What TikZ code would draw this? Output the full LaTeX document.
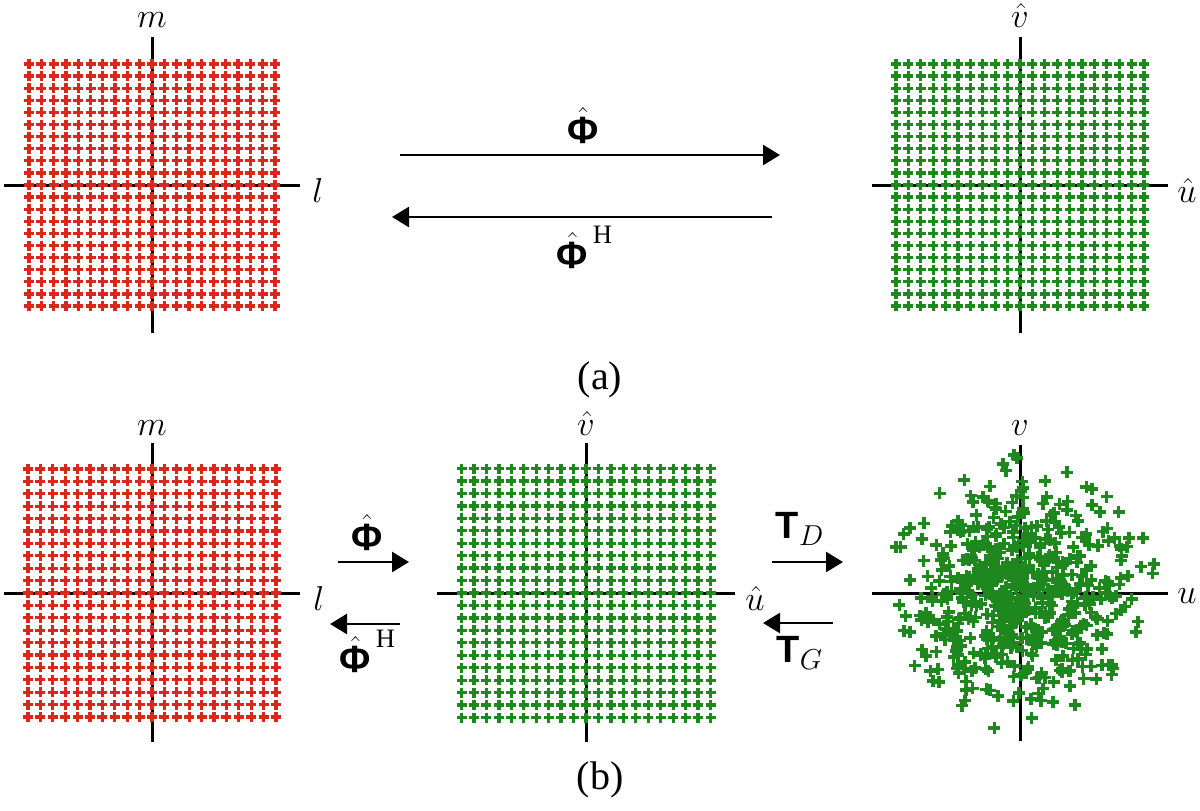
\documentclass[tikz,border=0pt]{standalone}
\usepackage{amsmath}
\usepackage{fontspec}
\setmainfont{Liberation Serif}
\setsansfont{Liberation Sans}
\usepackage{graphicx}
\usetikzlibrary{arrows.meta}

\definecolor{gridred}{RGB}{218,38,28}
\definecolor{gridgreen}{RGB}{30,136,30}

\newcommand{\Phat}{\hat{\text{\sffamily\bfseries Φ}}}
\newcommand{\Tbf}{\text{\sffamily\bfseries T}}

\begin{document}
\begin{tikzpicture}[
    x=0.5pt, y=-0.5pt,
    axis/.style={line width=1.5pt},
    redcross/.style={draw=gridred, line width=1.65pt},
    greencross/.style={draw=gridgreen, line width=1.65pt},
    scatcross/.style={draw=gridgreen, line width=1.8pt},
    arrow/.style={-{Triangle[length=8.5pt,width=10pt]}, line width=1.3pt},
    lbl/.style={font=\fontsize{19}{23}\selectfont, inner sep=0pt, anchor=base},
    oplbl/.style={font=\fontsize{19}{23}\selectfont, inner sep=0pt, anchor=base},
    captxt/.style={font=\rmfamily\fontsize{20}{24}\selectfont, inner sep=0pt, anchor=base}
]
\useasboundingbox (0,0) rectangle (1200,810);

% --- Hình (a): mặt phẳng (l,m) bên trái ---
\begin{scope}[shift={(152,185)}]
  \draw[axis] (-148,0) -- (148,0);
  \draw[axis] (0,-148) -- (0,148);
  \foreach \i in {-10,...,10}
    \foreach \j in {-10,...,10}
      \draw[redcross] (\i*12.3-5,\j*12.1) -- ++(10,0) ++(-5,-5) -- ++(0,10);
  \node[lbl] (mA) at (0,-158) {$m$};
  \node[lbl, anchor=base west] (lA) at (160,17) {$l$};
\end{scope}

% --- Hình (a): mặt phẳng (u,v) bên phải ---
\begin{scope}[shift={(1020,185)}]
  \draw[axis] (-148,0) -- (148,0);
  \draw[axis] (0,-148) -- (0,148);
  \foreach \i in {-10,...,10}
    \foreach \j in {-10,...,10}
      \draw[greencross] (\i*12.4-5,\j*12.1) -- ++(10,0) ++(-5,-5) -- ++(0,10);
  \node[lbl] (vA) at (0,-158) {$\hat{v}$};
  \node[lbl, anchor=base west] (uA) at (157,17) {$\hat{u}$};
\end{scope}

% --- Mũi tên (a) ---
\coordinate (phiA1) at (400,155);
\coordinate (phiA2) at (780,155);
\coordinate (phiHA1) at (772,217);
\coordinate (phiHA2) at (392,217);
\draw[arrow] (phiA1) -- (phiA2);
\draw[arrow] (phiHA1) -- (phiHA2);
\node[oplbl] (phiA) at (583,143) {$\Phat$};
\node[oplbl] (phiHA) at (585,268) {$\Phat^{\,\mathrm{H}}$};

\node[captxt] (capA) at (600,389) {(a)};

% --- Hình (b): lưới (l,m) ---
\begin{scope}[shift={(152,593)}]
  \draw[axis] (-148,0) -- (148,0);
  \draw[axis] (0,-150) -- (0,149);
  \foreach \i in {-10,...,10}
    \foreach \j in {-10,...,10}
      \draw[redcross] (\i*12.4-5,\j*12.4) -- ++(10,0) ++(-5,-5) -- ++(0,10);
  \node[lbl] (mB) at (0,-158) {$m$};
  \node[lbl, anchor=base west] (lB) at (161,17) {$l$};
\end{scope}

% --- Hình (b): lưới (u,v) ở giữa ---
\begin{scope}[shift={(586,593)}]
  \draw[axis] (-149,0) -- (149,0);
  \draw[axis] (0,-150) -- (0,149);
  \foreach \i in {-10,...,10}
    \foreach \j in {-10,...,10}
      \draw[greencross] (\i*12.45-5,\j*12.45) -- ++(10,0) ++(-5,-5) -- ++(0,10);
  \node[lbl] (vB) at (0,-158) {$\hat{v}$};
  \node[lbl, anchor=base west] (uB) at (159,17) {$\hat{u}$};
\end{scope}

% --- Hình (b): điểm ngẫu nhiên bên phải ---
\begin{scope}[shift={(1020,593)}]
  \draw[axis] (-148,0) -- (148,0);
  \draw[axis] (0,-148) -- (0,148);
  \pgfmathsetseed{4127}
  \foreach \k in {1,...,600}{
    \pgfmathsetmacro\rr{53*sqrt(-2*ln(0.03+0.97*rnd))}
    \pgfmathsetmacro\aa{360*rnd}
    \draw[scatcross] ({\rr*cos(\aa)-6},{\rr*sin(\aa)}) -- ++(12,0) ++(-6,-6) -- ++(0,12);
  }
  \node[lbl] (vC) at (0,-158) {$v$};
  \node[lbl, anchor=base west] (uC) at (157,10) {$u$};
\end{scope}

% --- Mũi tên (b) ---
\coordinate (phiB1) at (338,562);
\coordinate (phiB2) at (409,562);
\coordinate (phiHB1) at (400,624);
\coordinate (phiHB2) at (330,624);
\coordinate (tdB1) at (772,562);
\coordinate (tdB2) at (843,562);
\coordinate (tgB1) at (833,623);
\coordinate (tgB2) at (763,623);
\draw[arrow] (phiB1) -- (phiB2);
\draw[arrow] (phiHB1) -- (phiHB2);
\draw[arrow] (tdB1) -- (tdB2);
\draw[arrow] (tgB1) -- (tgB2);
\node[oplbl] (phiB) at (367,550) {$\Phat$};
\node[oplbl] (phiHB) at (368,672) {$\Phat^{\,\mathrm{H}}$};
\node[oplbl] (tdB) at (800,538) {$\Tbf_D$};
\node[oplbl] (tgB) at (800,662) {$\Tbf_G$};

\node[captxt] (capB) at (600,789) {(b)};

\end{tikzpicture}
\end{document}
